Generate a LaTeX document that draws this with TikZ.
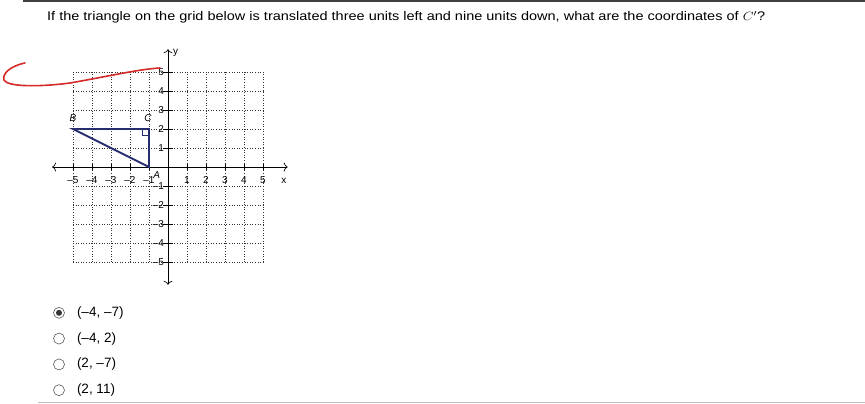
\documentclass[tikz,border=0pt]{standalone}
\usepackage{fontspec}
\setmainfont{Liberation Sans}
\usetikzlibrary{positioning}
\usetikzlibrary{arrows.meta}
\definecolor{navy}{HTML}{262D6E}
\definecolor{ink}{HTML}{D42A2A}
\tikzset{
 tick label/.style={font=\fontsize{10}{10}\selectfont, inner sep=0pt},
 vertex label/.style={font=\fontsize{10}{10}\selectfont\itshape, inner sep=0pt},
 grid line/.style={dotted, line width=0.6pt, black!80},
 radio/.style={circle, draw=black!65, minimum size=11pt, inner sep=0pt, line width=0.6pt},
 choice/.style={font=\fontsize{13.5}{13.5}\selectfont, inner sep=0pt},
 axis arrow/.style={{To[length=4pt,width=9pt]}-{To[length=4pt,width=9pt]}, line width=0.7pt},
}

\begin{document}
\begin{tikzpicture}[x=1pt, y=-1pt]
    \useasboundingbox (0,0) rectangle (865,404);
    \fill[black!75] (23,0) rectangle (865,2.5);
    \draw[black!25] (38,402) -- (865,402);
    \node[anchor=base west, inner sep=0pt, font=\fontsize{12.5}{12.5}\selectfont] (question) at (47,21)
        {\scalebox{1.16}[1]{If the triangle on the grid below is translated three units left and nine units down, what are the coordinates of $C'$?}};

    \begin{scope}[shift={(168pt,-167pt)}, x=19pt, y=19pt]
        \draw[grid line, step=1] (-5,-5) grid (5,5);
        \coordinate (xl) at (-6.1,0);
        \coordinate (xr) at (6.3,0);
        \coordinate (yb) at (0,-6.2);
        \coordinate (yt) at (0,6.2);
        \draw[axis arrow] (xl) -- (xr);
        \draw[axis arrow] (yb) -- (yt);
        \foreach \n in {1,...,5} {
            \draw (\n,-0.15) -- (\n,0.15);
            \draw (-\n,-0.15) -- (-\n,0.15);
            \draw (-0.25,\n) -- (0.25,\n);
            \draw (-0.25,-\n) -- (0.25,-\n);
            \node[tick label] (xp\n) at (\n,-0.7) {\n};
            \node[tick label] (xm\n) at (-\n,-0.7) {–\n};
            \node[tick label, anchor=east] (yp\n) at (-0.2,\n) {\n};
            \node[tick label, anchor=east] (ym\n) at (-0.2,-\n) {–\n};
        }
        \node[tick label] (xname) at (6.1,-0.75) {x};
        \node[tick label] (yname) at (0.4,6.0) {y};

        \coordinate (A) at (-1,0);
        \coordinate (B) at (-5,2);
        \coordinate (C) at (-1,2);
        \draw[navy, line width=1.8pt] (B) -- (C) -- (A) -- cycle;
        \draw[navy, line width=1.2pt] (-1.33,2) -- (-1.33,1.67) -- (-1,1.67);
        \node[vertex label] (labA) at (-0.6,-0.4) {A};
        \node[vertex label] (labB) at (-5,2.55) {B};
        \node[vertex label] (labC) at (-1.05,2.55) {C};
    \end{scope}

    \draw[ink, line width=1.6pt, line cap=round] (25,63) .. controls (10,66) and (2,74) .. (4,80)
        .. controls (7,87) and (40,87) .. (70,83) .. controls (110,76) and (140,69) .. (160,68);

    \foreach \ans [count=\i] in {{(–4, –7)}, {(–4, 2)}, {(2, –7)}, {(2, 11)}} {
        \node[radio] (r\i) at (59, 287+25.8*\i) {};
        \node[choice, right=12pt of r\i] (c\i) {\ans};
    }
    \fill[black!80] (r1) circle (3pt);
\end{tikzpicture}
\end{document}
